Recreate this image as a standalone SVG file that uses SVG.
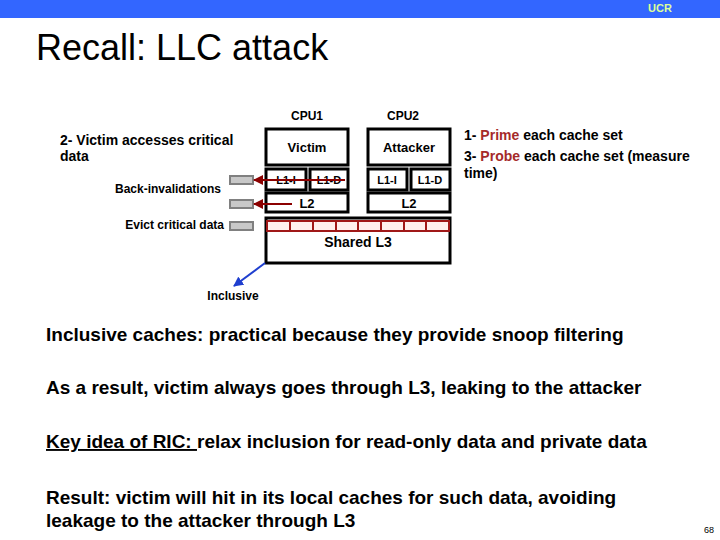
<svg xmlns="http://www.w3.org/2000/svg" width="720" height="540" viewBox="0 0 720 540">
<defs>
<style>
text{font-family:"Liberation Sans",Arial,sans-serif;}
.b{font-weight:bold;}
.sm{font-size:12px;font-weight:bold;fill:#000;}
.md{font-size:14px;font-weight:bold;fill:#000;}
.box{fill:#fff;stroke:#000;stroke-width:3;}
.lbl{font-weight:bold;text-anchor:middle;}
.gr{fill:#c8c8c8;stroke:#808080;stroke-width:2;}
.body{font-size:19px;font-weight:bold;fill:#000;}
.red{fill:#a52a2a;}
</style>
<marker id="ar" viewBox="0 0 10 10" refX="9" refY="5" markerWidth="5" markerHeight="5" orient="auto"><path d="M0,0 L10,5 L0,10 z" fill="#8b0000"/></marker>
<marker id="ab" viewBox="0 0 10 10" refX="9" refY="5" markerWidth="5" markerHeight="5" orient="auto"><path d="M0,0 L10,5 L0,10 z" fill="#1f3fcf"/></marker>
</defs>
<rect x="0" y="0" width="720" height="18" fill="#3366ff"/>
<text x="660" y="12" font-size="11" class="b" fill="#ddff99" text-anchor="middle">UCR</text>
<text x="36" y="60" font-size="36">Recall: LLC attack</text>

<g id="cpu1-label"><text x="307" y="120" class="lbl" font-size="12">CPU1</text></g>
<g id="cpu2-label"><text x="403" y="120" class="lbl" font-size="12">CPU2</text></g>
<g id="victim"><rect x="266" y="129" width="82" height="36" class="box"/><text x="307" y="152" class="lbl" font-size="13">Victim</text></g>
<g id="attacker"><rect x="368" y="129" width="82" height="36" class="box"/><text x="409" y="152" class="lbl" font-size="13">Attacker</text></g>
<g id="l1i-1"><rect x="266" y="169" width="40" height="21" class="box"/><text x="286" y="184" class="lbl" font-size="11">L1-I</text></g>
<g id="l1d-1"><rect x="310" y="169" width="38" height="21" class="box"/><text x="329" y="184" class="lbl" font-size="11">L1-D</text></g>
<g id="l1i-2"><rect x="368" y="169" width="39" height="21" class="box"/><text x="387" y="184" class="lbl" font-size="11">L1-I</text></g>
<g id="l1d-2"><rect x="411" y="169" width="39" height="21" class="box"/><text x="430" y="184" class="lbl" font-size="11">L1-D</text></g>
<g id="l2-1"><rect x="266" y="193" width="82" height="19" class="box"/><text x="307" y="208" class="lbl" font-size="13">L2</text></g>
<g id="l2-2"><rect x="368" y="193" width="82" height="19" class="box"/><text x="409" y="208" class="lbl" font-size="13">L2</text></g>
<g id="l3">
<rect x="266" y="218" width="184" height="45" class="box"/>
<rect x="267" y="221" width="182" height="10" fill="#fff0ee" stroke="#a01818" stroke-width="2"/>
<path d="M290,221V231M313,221V231M336,221V231M358,221V231M381,221V231M404,221V231M426,221V231" stroke="#a01818" stroke-width="2"/>
<text x="358" y="247" class="lbl" font-size="14">Shared L3</text>
</g>
<g id="gray1"><rect x="230" y="176" width="23" height="8" class="gr"/></g>
<g id="gray2"><rect x="230" y="200" width="23" height="8" class="gr"/></g>
<g id="gray3"><rect x="230" y="222" width="23" height="8" class="gr"/></g>

<g id="connectors">
<line x1="345" y1="180" x2="254" y2="180" stroke="#8b0000" stroke-width="2" marker-end="url(#ar)"/>
<line x1="292" y1="204" x2="254" y2="204" stroke="#8b0000" stroke-width="2" marker-end="url(#ar)"/>
<line x1="265" y1="263" x2="234" y2="286" stroke="#1f3fcf" stroke-width="2" marker-end="url(#ab)"/>
</g>

<text x="60" y="145" class="md">2- Victim accesses critical</text>
<text x="60" y="161" class="md">data</text>
<text x="221" y="193" class="sm" text-anchor="end">Back-invalidations</text>
<text x="224" y="229" class="sm" text-anchor="end">Evict critical data</text>
<text x="233" y="300" class="sm" text-anchor="middle" fill="#1f3fcf">Inclusive</text>

<text x="464" y="140" class="md">1- <tspan class="red">Prime</tspan> each cache set</text>
<text x="464" y="161" class="md">3- <tspan class="red">Probe</tspan> each cache set (measure</text>
<text x="464" y="178" class="md">time)</text>

<text x="46" y="341" class="body">Inclusive caches: practical because they provide snoop filtering</text>
<text x="46" y="394" class="body">As a result, victim always goes through L3, leaking to the attacker</text>
<text x="46" y="448" class="body"><tspan text-decoration="underline">Key idea of RIC: </tspan>relax inclusion for read-only data and private data</text>
<text x="46" y="504" class="body">Result: victim will hit in its local caches for such data, avoiding</text>
<text x="46" y="527" class="body">leakage to the attacker through L3</text>
<text x="714" y="533" font-size="9" text-anchor="end">68</text>
</svg>
